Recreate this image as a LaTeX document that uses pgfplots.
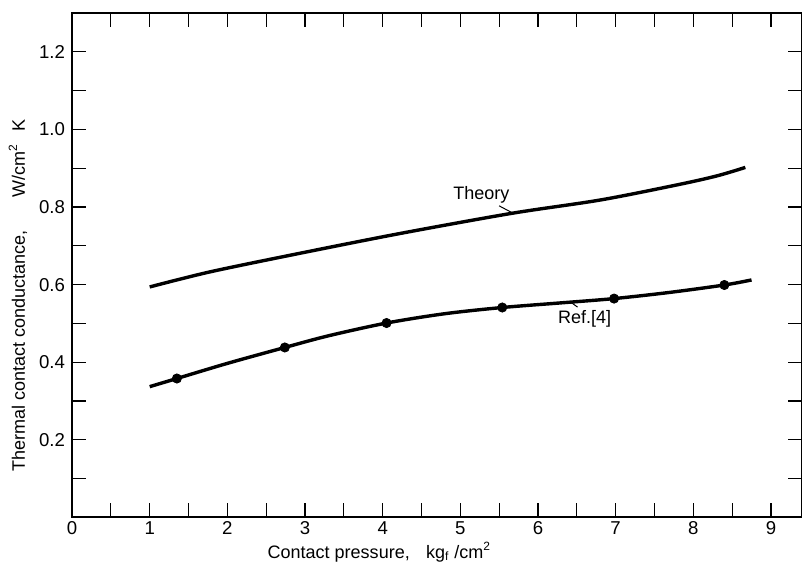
\documentclass[border=0pt]{standalone}
\usepackage{fontspec}
\setmainfont{Liberation Sans}
\usepackage{pgfplots}
\pgfplotsset{compat=1.18}
\begin{document}
\begin{tikzpicture}
\begin{axis}[
  scale only axis, width=364.7pt, height=252pt,
  xmin=0, xmax=9.4, ymin=0, ymax=1.3,
  xtick={0,1,2,3,4,5,6,7,8,9},
  minor xtick={0.5,1.5,2.5,3.5,4.5,5.5,6.5,7.5,8.5},
  ytick={0.2,0.4,0.6,0.8,1.0,1.2},
  minor ytick={0.1,0.3,0.5,0.7,0.9,1.1},
  tick align=inside, major tick length=7pt, minor tick length=7pt,
  every tick/.style={black, line width=0.6pt},
  axis line style={line width=1pt},
  /pgf/number format/assume math mode=true,
  tick label style={font=\fontsize{9.3}{11}\selectfont},
  yticklabel style={/pgf/number format/.cd, fixed, fixed zerofill, precision=1},
  xticklabel style={anchor=base, yshift=-8.5pt},
  label style={font=\fontsize{9}{11}\selectfont},
  xlabel={Contact pressure,\hspace{0.9em}kg\textsubscript{f} /cm\textsuperscript{2}},
  xlabel style={at={(axis description cs:0.421,0)}, anchor=base, yshift=-20.5pt},
  ylabel={Thermal contact conductance,\hspace{1.8em}W/cm\textsuperscript{2}\hspace{0.7em}K},
  ylabel style={at={(axis description cs:-0.074,0.44)}, anchor=center},
  clip=false,
]
% Theory
\addplot[black, line width=1.7pt, smooth] coordinates {
  (1.0,0.594) (1.78,0.633) (2.94,0.681) (4.23,0.732) (5.67,0.784)
  (6.80,0.818) (7.79,0.857) (8.3,0.880) (8.67,0.902)
};
% Ref.[4] curve
\addplot[black, line width=1.7pt, smooth] coordinates {
  (1.0,0.337) (1.35,0.358) (2.0,0.397) (2.74,0.438) (3.3,0.468) (4.05,0.501)
  (4.8,0.525) (5.54,0.541) (6.3,0.553) (6.98,0.564) (7.7,0.580) (8.40,0.599) (8.75,0.612)
};
% Ref.[4] data points
\addplot[black, only marks, mark=*, mark size=2.3pt] coordinates {
  (1.35,0.358) (2.74,0.438) (4.05,0.501) (5.54,0.541) (6.98,0.564) (8.40,0.599)
};
\node[font=\fontsize{9}{11}\selectfont] at (axis cs:5.27,0.831) {Theory};
\draw[black, line width=0.5pt] (axis cs:5.50,0.803) -- (axis cs:5.67,0.785);
\node[font=\fontsize{9}{11}\selectfont] at (axis cs:6.60,0.511) {Ref.[4]};
\draw[black, line width=0.5pt] (axis cs:6.42,0.555) -- (axis cs:6.51,0.542);
\end{axis}
\pgfresetboundingbox
\path[use as bounding box] ([xshift=-36pt,yshift=-23.5pt]current axis.south west) rectangle ([yshift=6.5pt]current axis.north east);
\end{tikzpicture}
\end{document}
